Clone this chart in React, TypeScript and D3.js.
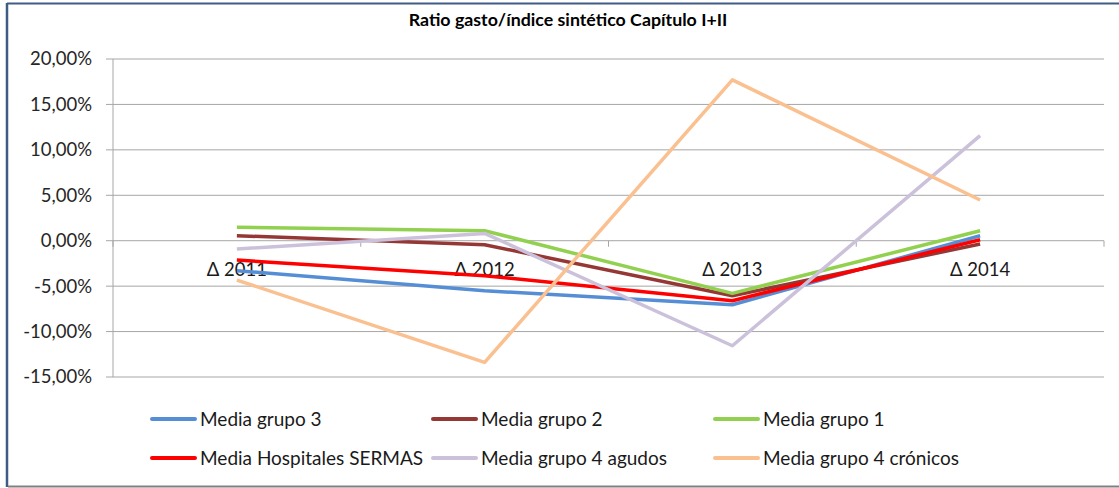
import React from 'react';
import * as d3 from 'd3';

const categories = ['Δ 2011', 'Δ 2012', 'Δ 2013', 'Δ 2014'];
const yTicks = [20, 15, 10, 5, 0, -5, -10, -15];
const seriesNames = [
  'Media grupo 3',
  'Media grupo 2',
  'Media grupo 1',
  'Media Hospitales SERMAS',
  'Media grupo 4 agudos',
  'Media grupo 4 crónicos',
];
const grupo3 = [-3.3, -5.5, -7.05, 0.55];
const grupo2 = [0.55, -0.44, -6.06, -0.37];
const grupo1 = [1.47, 1.1, -5.8, 1.1];
const sermas = [-2.13, -3.85, -6.6, 0.1];
const agudos = [-0.92, 0.8, -11.56, 11.56];
const cronicos = [-4.33, -13.4, 17.7, 4.48];
const seriesColors = ['#558ED5', '#953735', '#92D050', '#FF0000', '#CCC1DA', '#FAC090'];

const title = 'Ratio gasto/índice sintético Capítulo I+II';

export default function App() {
  const W = 1119;
  const H = 488;
  const left = 113;
  const right = 1104;
  const top = 59;
  const bottom = 377;
  const x = d3.scaleBand<string>().domain(categories).range([left, right]);
  const y = d3.scaleLinear().domain([-15, 20]).range([bottom, top]);
  const data = [grupo3, grupo2, grupo1, sermas, agudos, cronicos];
  const line = d3
    .line<number>()
    .x((_, i) => (x(categories[i]) as number) + x.bandwidth() / 2)
    .y((d) => y(d));
  const fmt = (v: number) => `${v.toFixed(2).replace('.', ',')}%`;
  const font = 'Lato, "Open Sans", sans-serif';
  const legendCols = [152, 433, 715];
  const legendRows = [419, 458];
  const fs = 18.5;

  return (
    <svg
      width={W}
      height={H}
      style={{ position: 'absolute', left: 0, top: 0, background: '#fff' }}
      fontFamily={font}
    >
      <rect x={0} y={0} width={W} height={H} fill="#fff" />
      <line x1={7} x2={W} y1={3.5} y2={3.5} stroke="#3E5C84" strokeWidth={2} />
      <line x1={7} x2={7} y1={3} y2={487} stroke="#3E5C84" strokeWidth={2.5} />
      <line x1={8} x2={W} y1={486.5} y2={486.5} stroke="#808080" strokeWidth={2} />
      <text x={568} y={20} dy="0.35em" textAnchor="middle" fontSize={17.8} fontWeight="bold" fill="#000">
        {title}
      </text>
      {yTicks.map((t) => (
        <g key={t}>
          <line x1={left} x2={right} y1={y(t)} y2={y(t)} stroke="#A6A6A6" strokeWidth={1} />
          <line x1={left - 7} x2={left} y1={y(t)} y2={y(t)} stroke="#A6A6A6" strokeWidth={1} />
          <text x={92} y={y(t)} dy="0.35em" textAnchor="end" fontSize={fs} fill="#262626">
            {fmt(t)}
          </text>
        </g>
      ))}
      <line x1={left} x2={left} y1={top} y2={bottom} stroke="#A6A6A6" strokeWidth={1} />
      {categories.concat(['end']).map((c, i) => {
        const xx = left + i * x.bandwidth();
        return <line key={c} x1={xx} x2={xx} y1={y(0)} y2={y(0) + 6} stroke="#A6A6A6" strokeWidth={1} />;
      })}
      {categories.map((c) => (
        <text
          key={c}
          x={(x(c) as number) + x.bandwidth() / 2}
          y={y(0) + 29}
          dy="0.35em"
          textAnchor="middle"
          fontSize={fs}
          fill="#1a1a1a"
        >
          {c}
        </text>
      ))}
      {data.map((d, i) => (
        <path
          key={i}
          d={line(d) as string}
          fill="none"
          stroke={seriesColors[i]}
          strokeWidth={3.5}
          strokeLinejoin="round"
        />
      ))}
      {seriesNames.map((n, i) => {
        const lx = legendCols[i % 3];
        const ly = legendRows[Math.floor(i / 3)];
        return (
          <g key={n}>
            <line x1={lx} x2={lx + 43} y1={ly} y2={ly} stroke={seriesColors[i]} strokeWidth={4} strokeLinecap="round" />
            <text x={lx + 48} y={ly} dy="0.35em" fontSize={19} fill="#1a1a1a">
              {n}
            </text>
          </g>
        );
      })}
    </svg>
  );
}
